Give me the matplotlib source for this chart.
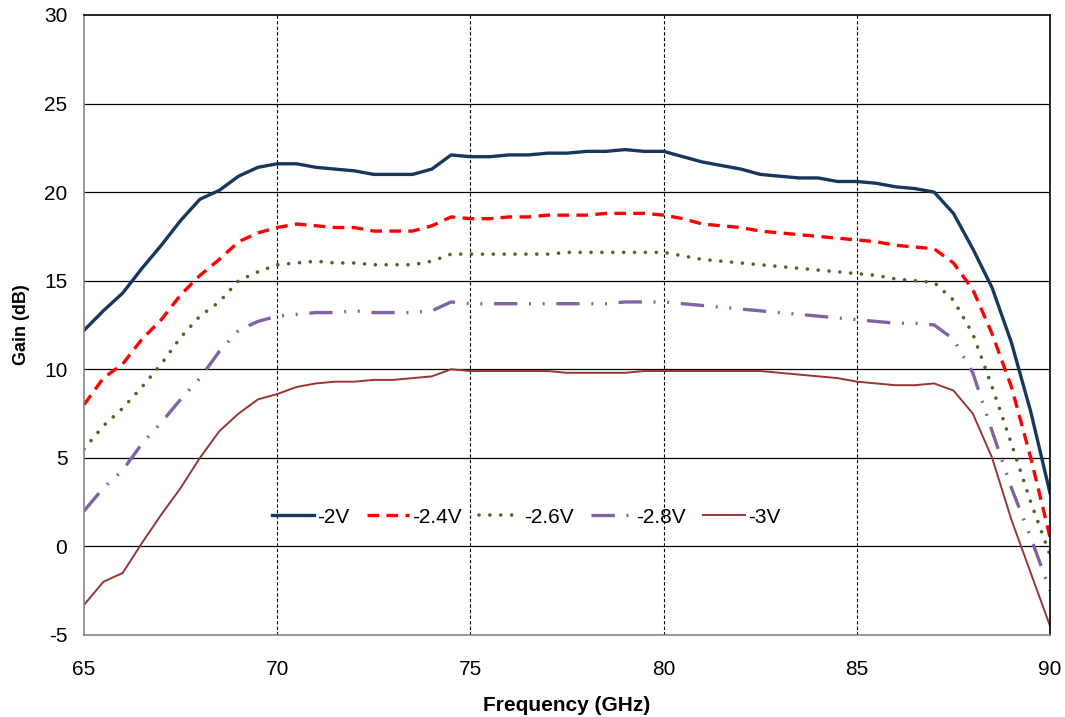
import numpy as np
import matplotlib.pyplot as plt

plt.rcParams['font.family'] = ['Liberation Sans', 'DejaVu Sans']
plt.rcParams['axes.unicode_minus'] = False

freq = np.arange(65, 90.01, 0.5)

# gain (dB) per gate bias at 0.5 GHz steps
gain_2v = [12.2, 13.3, 14.3, 15.7, 17.0, 18.4, 19.6, 20.1, 20.9, 21.4,
           21.6, 21.6, 21.4, 21.3, 21.2, 21.0, 21.0, 21.0, 21.3, 22.1,
           22.0, 22.0, 22.1, 22.1, 22.2, 22.2, 22.3, 22.3, 22.4, 22.3,
           22.3, 22.0, 21.7, 21.5, 21.3, 21.0, 20.9, 20.8, 20.8, 20.6,
           20.6, 20.5, 20.3, 20.2, 20.0, 18.8, 16.8, 14.6, 11.5, 7.6, 3.0]
gain_24v = [8.0, 9.5, 10.3, 11.7, 12.8, 14.2, 15.3, 16.2, 17.2, 17.7,
            18.0, 18.2, 18.1, 18.0, 18.0, 17.8, 17.8, 17.8, 18.1, 18.6,
            18.5, 18.5, 18.6, 18.6, 18.7, 18.7, 18.7, 18.8, 18.8, 18.8,
            18.7, 18.5, 18.2, 18.1, 18.0, 17.8, 17.7, 17.6, 17.5, 17.4,
            17.3, 17.2, 17.0, 16.9, 16.8, 16.0, 14.5, 12.0, 9.0, 5.0, 0.5]
gain_26v = [5.5, 6.8, 7.8, 9.0, 10.3, 11.8, 13.0, 13.8, 15.0, 15.5,
            15.9, 16.0, 16.1, 16.0, 16.0, 15.9, 15.9, 15.9, 16.1, 16.5,
            16.5, 16.5, 16.5, 16.5, 16.5, 16.6, 16.6, 16.6, 16.6, 16.6,
            16.6, 16.4, 16.2, 16.1, 16.0, 15.9, 15.8, 15.7, 15.6, 15.5,
            15.4, 15.3, 15.1, 15.0, 14.9, 13.9, 12.0, 9.0, 5.8, 2.5, -0.5]
gain_28v = [2.0, 3.3, 4.3, 5.8, 7.0, 8.3, 9.5, 11.0, 12.2, 12.7,
            13.0, 13.1, 13.2, 13.2, 13.3, 13.2, 13.2, 13.2, 13.3, 13.8,
            13.7, 13.7, 13.7, 13.7, 13.7, 13.7, 13.7, 13.7, 13.8, 13.8,
            13.8, 13.7, 13.6, 13.5, 13.4, 13.3, 13.2, 13.1, 13.0, 12.9,
            12.8, 12.7, 12.6, 12.6, 12.5, 11.7, 9.8, 6.5, 3.3, 0.5, -2.5]
gain_3v = [-3.3, -2.0, -1.5, 0.2, 1.8, 3.3, 5.0, 6.5, 7.5, 8.3,
           8.6, 9.0, 9.2, 9.3, 9.3, 9.4, 9.4, 9.5, 9.6, 10.0,
           9.9, 9.9, 9.9, 9.9, 9.9, 9.8, 9.8, 9.8, 9.8, 9.9,
           9.9, 9.9, 9.9, 9.9, 9.9, 9.9, 9.8, 9.7, 9.6, 9.5,
           9.3, 9.2, 9.1, 9.1, 9.2, 8.8, 7.5, 5.0, 1.5, -1.5, -4.5]

fig = plt.figure(figsize=(10.65, 7.17), dpi=100)
ax = fig.add_axes([0.0789, 0.1144, 0.9071, 0.8647])

ax.plot(freq, gain_2v, color='#17375E', lw=2.4, label='-2V')
ax.plot(freq, gain_24v, color='#FF0000', lw=2.4, dashes=(3.5, 2.2), label='-2.4V')
ax.plot(freq, gain_26v, color='#4F6228', lw=2.6, dashes=(0.01, 3.0),
        dash_capstyle='round', label='-2.6V')
ax.plot(freq, gain_28v, color='#8064A2', lw=2.4,
        dashes=(7, 3.5, 0.6, 3.5, 0.6, 3.5), label='-2.8V')
ax.plot(freq, gain_3v, color='#953735', lw=1.4, label='-3V')

ax.set_xlim(65, 90)
ax.set_ylim(-5, 30)
ax.set_xticks(np.arange(65, 91, 5))
ax.set_yticks(np.arange(-5, 31, 5))
ax.tick_params(axis='x', labelsize=15, length=0, pad=18)
ax.tick_params(axis='y', labelsize=15, length=0, pad=12)

for y in range(0, 30, 5):
    ax.axhline(y, color='black', lw=0.9, zorder=0)
for x in range(70, 90, 5):
    ax.axvline(x, color='black', lw=0.8, ls=(0, (3, 2)), zorder=0)

ax.spines['left'].set_color('#868686')
ax.spines['bottom'].set_color('#868686')
ax.spines['top'].set_color('black')
ax.spines['right'].set_color('black')
for s in ax.spines.values():
    s.set_linewidth(1.2)

ax.set_xlabel('Frequency (GHz)', fontsize=15, fontweight='bold', labelpad=12)
ax.set_ylabel('Gain (dB)', fontsize=13, fontweight='bold', labelpad=10)

ax.legend(loc='center', bbox_to_anchor=(0.458, 0.19), ncol=5, frameon=False,
          fontsize=15, handlelength=2.0, handletextpad=0.15, columnspacing=0.85)

fig.savefig('out.png', dpi=100)
